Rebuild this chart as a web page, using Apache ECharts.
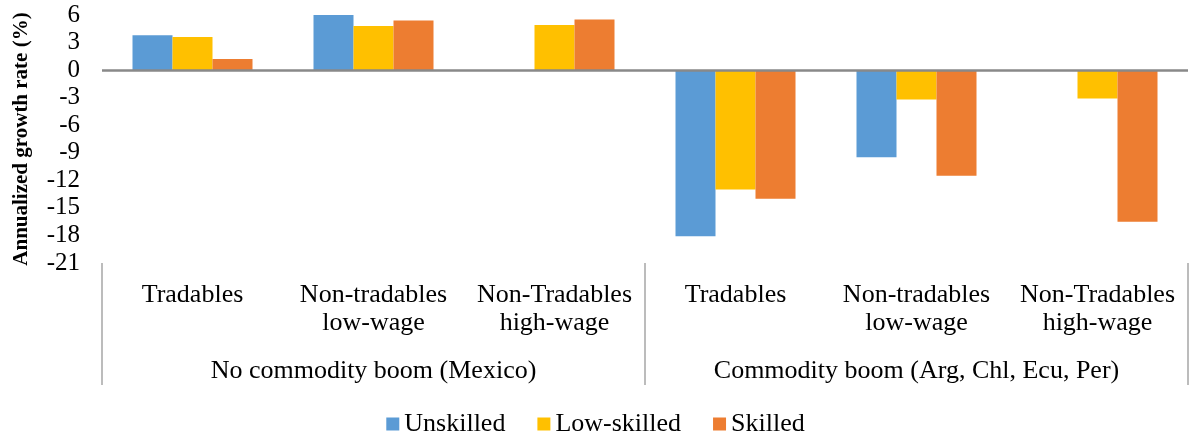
<!DOCTYPE html>
<html>
<head>
<meta charset="utf-8">
<script src="https://cdn.jsdelivr.net/npm/echarts@6/dist/echarts.min.js"></script>
<style>
html,body{margin:0;padding:0;background:#fff;}
#chart{width:1191px;height:438px;}
</style>
</head>
<body>
<div id="chart"></div>
<script>
const categories = [
  'Tradables', 'Non-tradables\nlow-wage', 'Non-Tradables\nhigh-wage',
  'Tradables', 'Non-tradables\nlow-wage', 'Non-Tradables\nhigh-wage'
];
const groups = ['No commodity boom (Mexico)', 'Commodity boom (Arg, Chl, Ecu, Per)'];
const seriesNames = ['Unskilled', 'Low-skilled', 'Skilled'];
const unskilled = [3.8, 6.2, null, -18.1, -9.5, null];
const lowSkilled = [3.6, 4.8, 4.9, -13.0, -3.2, -3.1];
const skilled = [1.2, 5.4, 5.5, -14.0, -11.5, -16.5];
const yTicks = { min: -21, max: 6, interval: 3 };

const colors = ['#5B9BD5', '#FFC000', '#ED7D31'];
const FONT = "'Liberation Serif', 'DejaVu Serif', serif";

const chart = echarts.init(document.getElementById('chart'), null, { renderer: 'canvas' });
const dataSets = [unskilled, lowSkilled, skilled];

chart.setOption({
  animation: false,
  textStyle: { fontFamily: FONT, color: '#000' },
  grid: { left: 102, right: 3, top: 15, bottom: 175, containLabel: false },
  legend: {
    top: 406,
    left: 'center',
    itemWidth: 13,
    itemHeight: 13,
    itemGap: 32,
    icon: 'rect',
    textStyle: { fontFamily: FONT, fontSize: 26, color: '#000', padding: [0, 0, 0, 0] },
    data: seriesNames
  },
  xAxis: [
    {
      type: 'category',
      data: categories,
      position: 'bottom',
      axisLine: { show: false, onZero: false },
      axisTick: { show: false },
      axisLabel: {
        interval: 0,
        margin: 18,
        fontFamily: FONT,
        fontSize: 26,
        lineHeight: 28,
        color: '#000',
        align: 'center'
      }
    },
    {
      type: 'category',
      data: groups,
      position: 'bottom',
      axisLine: { show: false, onZero: false },
      axisTick: { show: true, length: 122, lineStyle: { color: '#a6a6a6', width: 1.5 } },
      axisLabel: {
        interval: 0,
        margin: 95,
        fontFamily: FONT,
        fontSize: 26,
        color: '#000'
      }
    }
  ],
  yAxis: {
    type: 'value',
    min: yTicks.min,
    max: yTicks.max,
    interval: yTicks.interval,
    splitLine: { show: false },
    axisLine: { show: false },
    axisTick: { show: false },
    axisLabel: { margin: 22, fontFamily: FONT, fontSize: 25, color: '#000' },
    name: 'Annualized growth rate (%)',
    nameLocation: 'middle',
    nameRotate: 90,
    nameGap: 70,
    nameTextStyle: { fontFamily: FONT, fontSize: 21, fontWeight: 'bold', color: '#000' }
  },
  series: seriesNames.map((name, i) => ({
    name: name,
    type: 'bar',
    xAxisIndex: 0,
    data: dataSets[i],
    barWidth: 40,
    barGap: '0%',
    itemStyle: { color: colors[i] },
    markLine: i === 0 ? {
      silent: true,
      symbol: 'none',
      label: { show: false },
      lineStyle: { color: '#898989', width: 2.5, type: 'solid' },
      data: [{ yAxis: 0 }]
    } : undefined
  }))
});
</script>
</body>
</html>
